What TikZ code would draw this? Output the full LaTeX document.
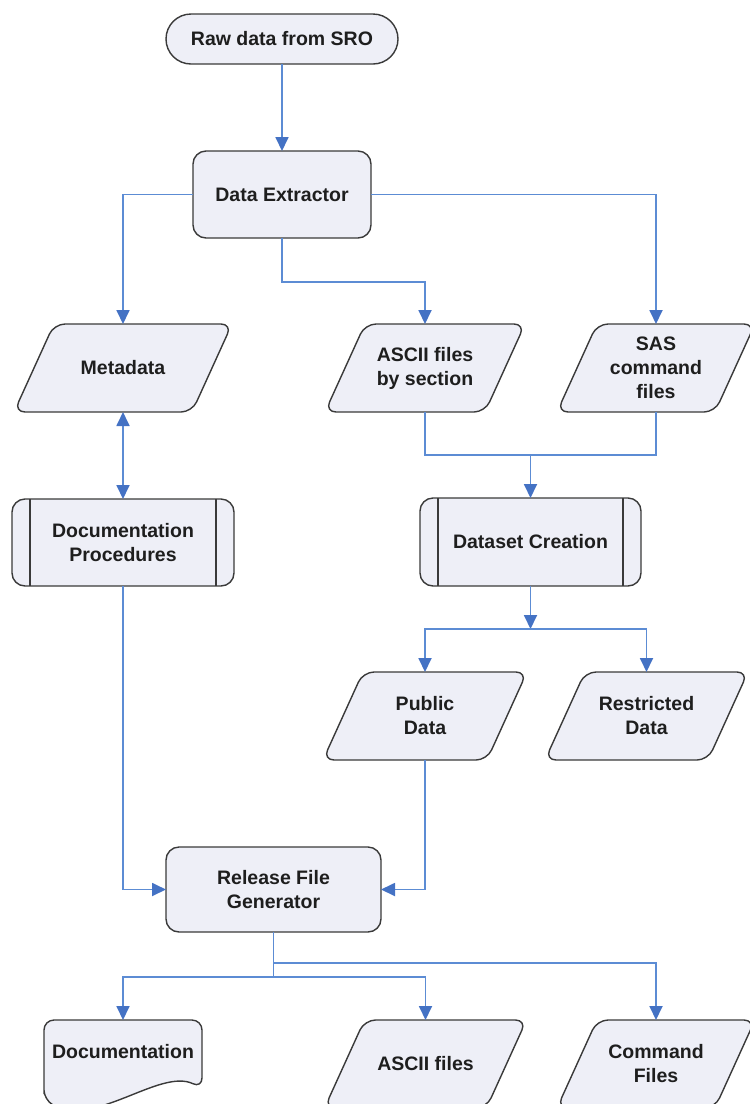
\documentclass[tikz,border=0pt]{standalone}
\usepackage{fontspec}
\setmainfont{Liberation Sans}
\usetikzlibrary{arrows.meta,backgrounds}
\definecolor{fillc}{HTML}{EEEFF7}
\definecolor{edgec}{HTML}{3A3A3A}
\definecolor{linec}{HTML}{5C8CD4}
\definecolor{tipc}{HTML}{4472C4}
\definecolor{textc}{HTML}{1E1E1E}
\begin{document}
\begin{tikzpicture}[x=1pt,y=-1pt,
  lbl/.style={font=\bfseries\fontsize{19.5}{24}\selectfont, align=center, text=textc, inner sep=0pt, outer sep=0pt},
  shp/.style={draw=edgec, fill=fillc, line width=1.4pt, rounded corners=11pt},
  conn/.style={draw=linec, line width=1.8pt},
  arr/.style={conn, -{Triangle[length=14pt,width=13pt,color=tipc]}},
  arrb/.style={conn, {Triangle[length=14pt,width=13pt,color=tipc]}-{Triangle[length=14pt,width=13pt,color=tipc]}},
  inner/.style={draw=edgec, line width=1.4pt}
]
\useasboundingbox (0,0) rectangle (750,1104);
\clip (0,0) rectangle (750,1104);

% nodes
\node[lbl, minimum width=232pt, minimum height=50pt] (raw) at (282,39) {Raw data from SRO};
\node[lbl, minimum width=178pt, minimum height=87pt] (ext) at (282,194.5) {Data Extractor};
\node[lbl, minimum width=218pt, minimum height=88pt] (meta) at (123,368) {Metadata};
\node[lbl, minimum width=200pt, minimum height=88pt] (ascii) at (425,368) {ASCII files\\by section};
\node[lbl, minimum width=198pt, minimum height=88pt] (sas) at (656,368) {SAS\\command\\files};
\node[lbl, minimum width=222pt, minimum height=87pt] (docp) at (123,542.5) {Documentation\\Procedures};
\node[lbl, minimum width=221pt, minimum height=88pt] (dset) at (530.5,542) {Dataset Creation};
\node[lbl, minimum width=204pt, minimum height=88pt] (pub) at (425,716) {Public\\Data};
\node[lbl, minimum width=203pt, minimum height=88pt] (rest) at (646.5,716) {Restricted\\Data};
\node[lbl, minimum width=215pt, minimum height=85pt] (rel) at (273.5,889.5) {Release File\\Generator};
\node[lbl, minimum width=158pt, minimum height=64pt] (doc) at (123,1052) {Documentation};
\node[lbl, minimum width=202pt, minimum height=88pt] (asciib) at (425.5,1064) {ASCII files};
\node[lbl, minimum width=198pt, minimum height=88pt] (cmd) at (656,1064) {Command\\Files};

% shapes
\begin{scope}[on background layer]
  \draw[shp, rounded corners=25pt] (raw.south west) rectangle (raw.north east);
  \draw[shp, rounded corners=13pt] (ext.south west) rectangle (ext.north east);
  \draw[shp, rounded corners=13pt] (rel.south west) rectangle (rel.north east);
  \foreach \n in {meta,ascii,sas,pub,rest,asciib,cmd}{
    \draw[shp] (\n.south west) -- ([xshift=-40pt]\n.south east) -- (\n.north east) -- ([xshift=40pt]\n.north west) -- cycle;
  }
  \foreach \n in {docp,dset}{
    \draw[shp, rounded corners=13pt] (\n.south west) rectangle (\n.north east);
    \draw[inner] ([xshift=18pt]\n.north west) -- ([xshift=18pt]\n.south west);
    \draw[inner] ([xshift=-18pt]\n.north east) -- ([xshift=-18pt]\n.south east);
  }
  \draw[shp, rounded corners=10pt] (44,1100) -- (44,1020) -- (202,1020) -- (202,1088)
     .. controls (160,1068) and (95,1128) .. (44,1100) -- cycle;
\end{scope}

% connectors
\coordinate (j0) at (282,282);
\coordinate (j1) at (530.5,455);
\coordinate (j2) at (530.5,629);
\coordinate (j3) at (273.5,977);
\coordinate (j4) at (273.5,963);

\draw[arr] (raw.south) -- (ext.north);
\draw[arr] (ext.west) -| (meta.north);
\draw[arr] (ext.east) -| (sas.north);
\draw[arr] (ext.south) -- (j0) -| (ascii.north);
\draw[arrb] (meta.south) -- (docp.north);
\draw[conn] (ascii.south) |- (j1) -| (sas.south);
\draw[arr] (j1) -- (dset.north);
\draw[arr] (dset.south) -- (j2);
\draw[arr] (j2) -| (pub.north);
\draw[arr] (j2) -| (rest.north);
\draw[arr] (docp.south) |- (rel.west);
\draw[arr] (pub.south) |- (rel.east);
\draw[conn] (rel.south) -- (j3);
\draw[arr] (j3) -| (doc.north);
\draw[arr] (j3) -| (asciib.north);
\draw[arr] (j4) -| (cmd.north);
\end{tikzpicture}
\end{document}
